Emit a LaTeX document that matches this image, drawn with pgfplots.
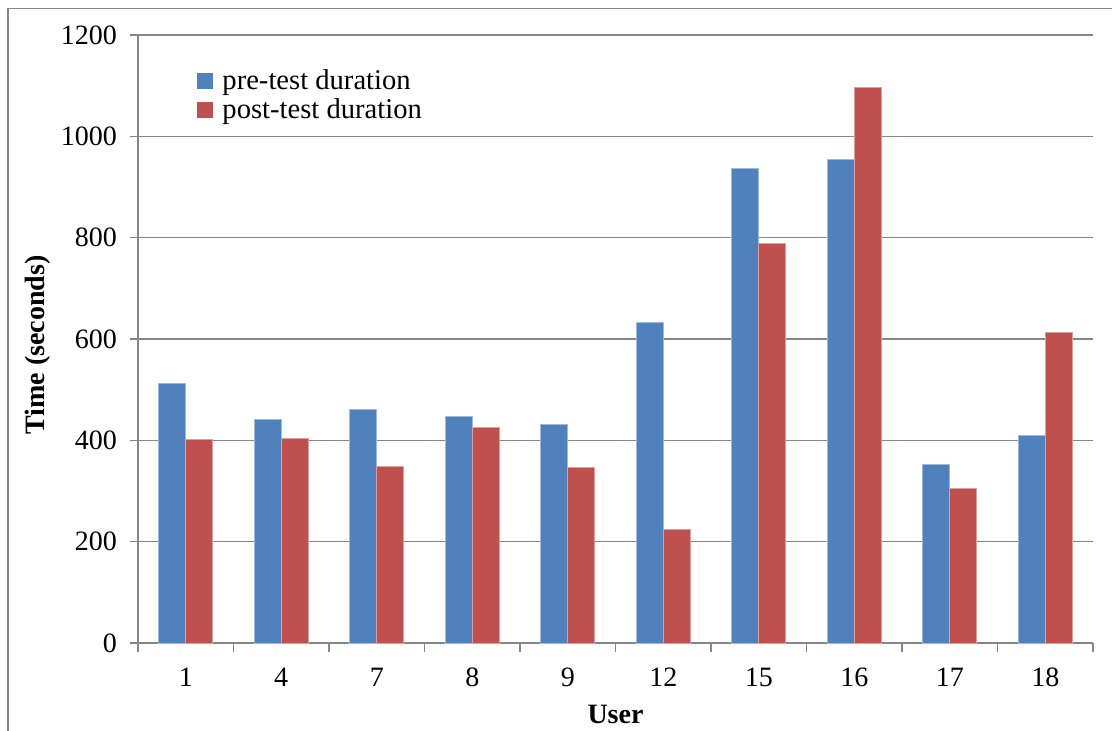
\documentclass[border=0pt]{standalone}
\usepackage{fontspec}
\setmainfont{Liberation Serif}
\usepackage{pgfplots}
\usepackage{pgfplotstable}
\pgfplotsset{compat=1.18}

\definecolor{preblue}{HTML}{4F81BD}
\definecolor{postred}{HTML}{C0504D}
\definecolor{gridgray}{HTML}{868686}

% test durations per user (seconds)
\pgfplotstableread{
idx user pre  post
0   1    513  402
1   4    442  404
2   7    461  349
3   8    447  425
4   9    431  346
5   12   633  225
6   15   937  789
7   16   955  1097
8   17   352  305
9   18   410  613
}\durations

\begin{document}
\begin{tikzpicture}
\useasboundingbox (0,0) rectangle (556pt,-365.5pt);
% chart frame
\draw[gridgray, line width=0.6pt] (4pt,-370pt) -- (4pt,-4.3pt) -- (560pt,-4.3pt);
\begin{axis}[
  at={(69pt,-321.5pt)}, anchor=south west,
  width=477.5pt, height=304pt, scale only axis,
  ybar=0pt, bar width=13.5pt,
  xmin=-0.5, xmax=9.5, ymin=0, ymax=1200,
  enlargelimits=false,
  ytick={0,200,...,1200},
  xtick={0,...,9},
  xticklabels={1,4,7,8,9,12,15,16,17,18},
  minor xtick={-0.5,0.5,...,9.5},
  tick align=outside,
  major tick length=4pt, minor tick length=4.5pt,
  major x tick style={draw=none},
  axis x line*=bottom, axis y line*=left,
  axis line style={gridgray, line width=0.75pt},
  every tick/.style={gridgray, line width=0.75pt},
  ymajorgrids, major grid style={gridgray, line width=0.75pt},
  /pgf/number format/1000 sep={},
  /pgf/number format/assume math mode=true,
  tick label style={font=\fontsize{14}{16}\selectfont, black},
  yticklabel style={xshift=-3pt},
  xticklabel style={yshift=-5pt},
  xlabel={User}, ylabel={Time (seconds)},
  label style={font=\fontsize{14}{17}\selectfont\bfseries},
  xlabel style={at={(axis description cs:0.5,-0.118)}, anchor=center},
  ylabel style={at={(axis description cs:-0.105,0.49)}, anchor=center, rotate=0},
  legend style={at={(axis description cs:0.061,0.95)}, anchor=north west,
    draw=none, fill=none, inner sep=0pt, row sep=-1pt,
    font=\fontsize{14.3}{16}\selectfont,
    nodes={inner sep=2pt},
    /tikz/every odd column/.append style={column sep=3pt}},
  legend cell align=left,
]
\addplot[fill=preblue, draw=preblue!55!white, line width=0.4pt,
  legend image code/.code={\fill[preblue] (0pt,-3.75pt) rectangle (7.5pt,3.75pt);}]
  table[x=idx, y=pre] {\durations};
\addlegendentry{pre-test duration}
\addplot[fill=postred, draw=postred!55!white, line width=0.4pt,
  legend image code/.code={\fill[postred] (0pt,-3.75pt) rectangle (7.5pt,3.75pt);}]
  table[x=idx, y=post] {\durations};
\addlegendentry{post-test duration}
\end{axis}
\end{tikzpicture}
\end{document}
